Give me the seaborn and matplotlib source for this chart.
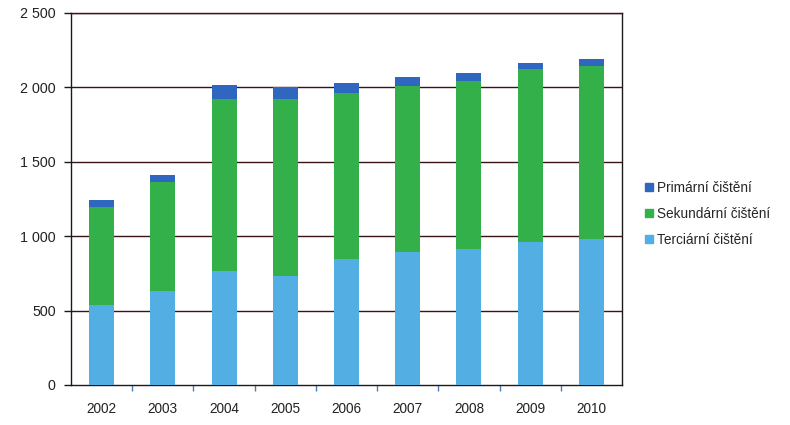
import numpy as np
import pandas as pd
import matplotlib
matplotlib.use("Agg")
import matplotlib.pyplot as plt
from matplotlib.lines import Line2D
from matplotlib.ticker import FixedLocator
import seaborn as sns

years = ["2002", "2003", "2004", "2005", "2006", "2007", "2008", "2009", "2010"]
terciarni = [538, 634, 766, 735, 845, 896, 912, 963, 979]
sekundarni = [660, 732, 1154, 1187, 1115, 1114, 1133, 1158, 1167]
primarni = [45, 45, 96, 83, 68, 62, 54, 45, 45]
series_names = ["Primární čištění", "Sekundární čištění", "Terciární čištění"]
colors = {"Primární čištění": "#2f67c0", "Sekundární čištění": "#34b04a", "Terciární čištění": "#52aee3"}
y_ticks = [0, 500, 1000, 1500, 2000, 2500]
y_tick_labels = ["0", "500", "1 000", "1 500", "2 000", "2 500"]

sns.set_theme(style="white")
plt.rcParams["font.family"] = ["Liberation Sans", "DejaVu Sans"]

df = pd.DataFrame({"rok": years, "ter": terciarni, "sek": sekundarni, "pri": primarni})
df["c_ter"] = df["ter"]
df["c_sek"] = df["ter"] + df["sek"]
df["c_pri"] = df["c_sek"] + df["pri"]

fig = plt.figure(figsize=(7.9, 4.25), dpi=100)
ax = fig.add_axes([71 / 790, 1 - 385 / 425, (622 - 71) / 790, (385 - 13) / 425])

grid_color = "#3a1414"
for y in y_ticks[1:]:
    ax.axhline(y, color=grid_color, lw=1.0, zorder=0)

w = 0.41
sns.barplot(data=df, x="rok", y="c_pri", color=colors["Primární čištění"], width=w,
            saturation=1, ax=ax, zorder=2, linewidth=0)
sns.barplot(data=df, x="rok", y="c_sek", color=colors["Sekundární čištění"], width=w,
            saturation=1, ax=ax, zorder=3, linewidth=0)
sns.barplot(data=df, x="rok", y="c_ter", color=colors["Terciární čištění"], width=w,
            saturation=1, ax=ax, zorder=4, linewidth=0)

ax.set_ylim(0, 2500)
ax.set_xlim(-0.5, len(years) - 0.5)
ax.set_yticks(y_ticks)
ax.set_yticklabels(y_tick_labels)
ax.set_xlabel("")
ax.set_ylabel("")

for s in ax.spines.values():
    s.set_color("#1a1a1a")
    s.set_linewidth(1.0)
ax.spines["top"].set_color(grid_color)

ax.tick_params(axis="y", which="major", left=True, length=5, width=1, color="#1a1a1a",
               pad=6, labelsize=10.3, labelcolor="#222222")
ax.tick_params(axis="x", which="major", bottom=False, length=0, pad=12, labelsize=9.8,
               labelcolor="#222222")
ax.xaxis.set_minor_locator(FixedLocator(np.arange(0.5, len(years) - 1, 1.0)))
ax.tick_params(axis="x", which="minor", bottom=True, length=4, width=1, color="#4a7fbf")

handles = [Line2D([0], [0], marker="s", linestyle="none", markersize=5.5,
                  markerfacecolor=colors[n], markeredgecolor=colors[n]) for n in series_names]
fig.legend(handles, series_names, loc="center left", bbox_to_anchor=(637 / 790, 1 - 214 / 425),
           frameon=False, fontsize=9.8, handletextpad=0.1, labelspacing=0.88,
           handlelength=1.0, borderaxespad=0)

fig.savefig("out.png", dpi=100)
